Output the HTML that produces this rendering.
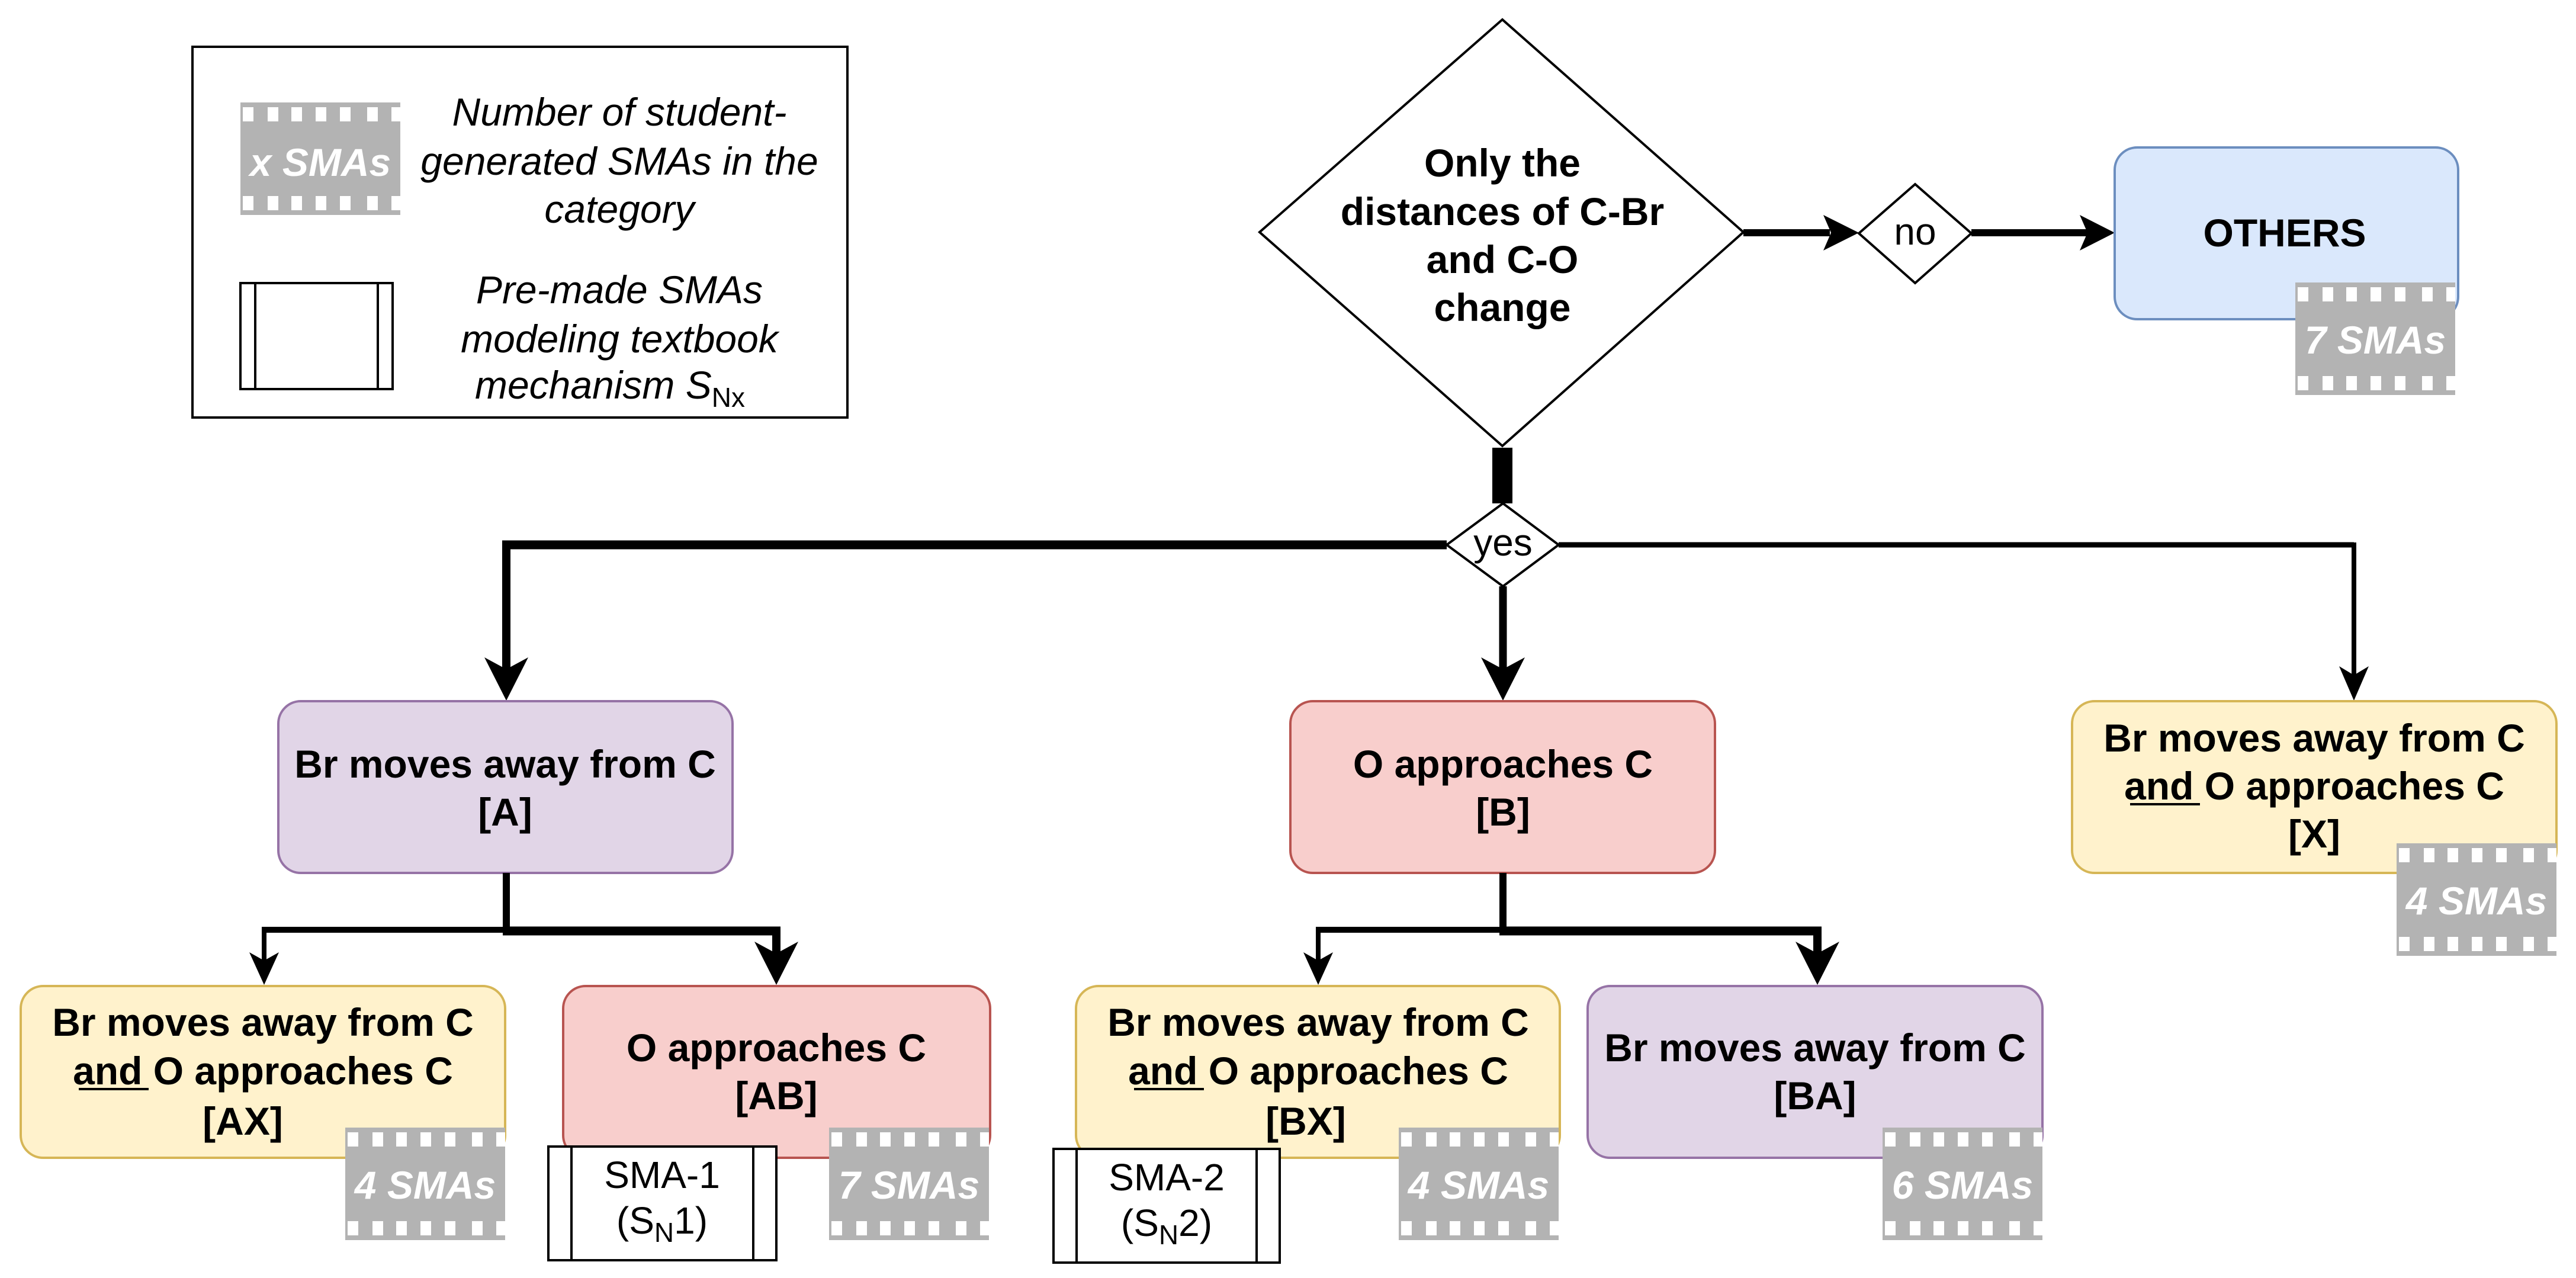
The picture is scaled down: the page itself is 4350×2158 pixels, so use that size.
<!DOCTYPE html>
<html><head><meta charset="utf-8"><style>
html,body{margin:0;padding:0;background:#fff;}
svg{display:block;}
text{font-family:"Liberation Sans",Arial,sans-serif;}
.b{font-weight:bold;font-size:66px;}
.l{font-style:italic;font-size:66px;}
.r{font-size:64px;}
.f{font-weight:bold;font-style:italic;font-size:66px;fill:#fff;}
</style></head><body>
<svg width="4350" height="2158" viewBox="0 0 4350 2158" xmlns="http://www.w3.org/2000/svg" font-family="Liberation Sans, Arial, sans-serif">
<defs>
<g id="film">
<rect x="0" y="0" width="270" height="190" fill="#b3b3b3"/>
<g fill="#fff">
<rect x="4" y="8" width="18" height="24"/><rect x="46" y="8" width="18" height="24"/><rect x="86" y="8" width="18" height="24"/><rect x="127" y="8" width="18" height="24"/><rect x="168" y="8" width="18" height="24"/><rect x="214" y="8" width="18" height="24"/><rect x="255" y="8" width="15" height="24"/>
<rect x="4" y="158" width="18" height="24"/><rect x="46" y="158" width="18" height="24"/><rect x="86" y="158" width="18" height="24"/><rect x="127" y="158" width="18" height="24"/><rect x="168" y="158" width="18" height="24"/><rect x="214" y="158" width="18" height="24"/><rect x="255" y="158" width="15" height="24"/>
</g>
</g>
</defs>

<!-- Legend -->
<rect x="325" y="79" width="1106" height="626" fill="#fff" stroke="#000" stroke-width="4"/>
<use href="#film" x="406" y="173"/>
<text class="f" x="541" y="297" text-anchor="middle">x SMAs</text>
<text class="l" x="1046" y="212" text-anchor="middle">Number of student-</text>
<text class="l" x="1046" y="295" text-anchor="middle">generated SMAs in the</text>
<text class="l" x="1046" y="376" text-anchor="middle">category</text>
<rect x="406" y="478" width="257" height="179" fill="#fff" stroke="#000" stroke-width="4"/>
<line x1="431" y1="478" x2="431" y2="657" stroke="#000" stroke-width="4"/>
<line x1="638" y1="478" x2="638" y2="657" stroke="#000" stroke-width="4"/>
<text class="l" x="1046" y="512" text-anchor="middle">Pre-made SMAs</text>
<text class="l" x="1046" y="595" text-anchor="middle">modeling textbook</text>
<text class="l" x="1030" y="673" text-anchor="middle">mechanism S<tspan font-size="46" font-style="normal" dy="14">Nx</tspan></text>

<!-- Big diamond -->
<polygon points="2537,33 2944,392 2537,753 2127,392" fill="#fff" stroke="#000" stroke-width="4"/>
<text class="b" x="2537" y="298" text-anchor="middle">Only the</text>
<text class="b" x="2537" y="380" text-anchor="middle">distances of C-Br</text>
<text class="b" x="2537" y="461" text-anchor="middle">and C-O</text>
<text class="b" x="2537" y="542" text-anchor="middle">change</text>

<!-- no branch -->
<line x1="2944" y1="393" x2="3090" y2="393" stroke="#000" stroke-width="12"/>
<polygon points="3139,393 3079,363 3092,393 3079,423" fill="#000"/>
<polygon points="3234,311 3329,394 3234,478 3139,394" fill="#fff" stroke="#000" stroke-width="4"/>
<text class="r" x="3234" y="413" text-anchor="middle" font-size="56">no</text>
<line x1="3329" y1="393" x2="3525" y2="393" stroke="#000" stroke-width="12"/>
<polygon points="3571,393 3512,363 3525,393 3512,423" fill="#000"/>

<!-- OTHERS -->
<rect x="3571" y="249" width="580" height="290" rx="38" fill="#dae8fc" stroke="#6c8ebf" stroke-width="4"/>
<text class="b" x="3858" y="416" text-anchor="middle">OTHERS</text>
<use href="#film" x="3876" y="477"/>
<text class="f" x="4011" y="597" text-anchor="middle">7 SMAs</text>

<!-- yes junction -->
<rect x="2520" y="756" width="34" height="94" fill="#000"/>
<line x1="848" y1="920" x2="2443" y2="920" stroke="#000" stroke-width="15"/>
<line x1="2632" y1="920" x2="3975" y2="920" stroke="#000" stroke-width="9"/>
<polygon points="2538,850 2632,920 2538,990 2443,920" fill="#fff" stroke="#000" stroke-width="4"/>
<text class="r" x="2538" y="938" text-anchor="middle" font-size="54">yes</text>

<!-- to A -->
<line x1="855" y1="913" x2="855" y2="1130" stroke="#000" stroke-width="14"/>
<polygon points="855,1183 818,1110 855,1130 892,1110" fill="#000"/>
<!-- to B -->
<line x1="2538" y1="990" x2="2538" y2="1130" stroke="#000" stroke-width="13"/>
<polygon points="2538,1183 2501,1110 2538,1130 2575,1110" fill="#000"/>
<!-- to X -->
<line x1="3975" y1="916" x2="3975" y2="1140" stroke="#000" stroke-width="8"/>
<polygon points="3975,1183 3950,1125 3975,1140 4000,1125" fill="#000"/>

<!-- A -->
<rect x="470" y="1184" width="767" height="290" rx="38" fill="#e1d5e7" stroke="#9673a6" stroke-width="4"/>
<text class="b" x="853" y="1313" text-anchor="middle">Br moves away from C</text>
<text class="b" x="853" y="1394" text-anchor="middle">[A]</text>

<!-- B -->
<rect x="2179" y="1184" width="717" height="290" rx="38" fill="#f8cecc" stroke="#b85450" stroke-width="4"/>
<text class="b" x="2538" y="1313" text-anchor="middle">O approaches C</text>
<text class="b" x="2538" y="1394" text-anchor="middle">[B]</text>

<!-- X -->
<rect x="3499" y="1184" width="818" height="290" rx="38" fill="#fff2cc" stroke="#d6b656" stroke-width="4"/>
<text class="b" x="3908" y="1269" text-anchor="middle">Br moves away from C</text>
<text class="b" x="3908" y="1350" text-anchor="middle">and O approaches C</text>
<text class="b" x="3908" y="1431" text-anchor="middle">[X]</text>
<line x1="3597" y1="1358" x2="3715" y2="1358" stroke="#000" stroke-width="4"/>
<use href="#film" x="4047" y="1424"/>
<text class="f" x="4182" y="1544" text-anchor="middle">4 SMAs</text>

<!-- A children connectors -->
<line x1="855" y1="1474" x2="855" y2="1577" stroke="#000" stroke-width="12"/>
<line x1="446" y1="1570" x2="861" y2="1570" stroke="#000" stroke-width="10"/>
<line x1="446" y1="1565" x2="446" y2="1625" stroke="#000" stroke-width="8"/>
<polygon points="446,1663 421,1608 446,1622 471,1608" fill="#000"/>
<line x1="849" y1="1572" x2="1318" y2="1572" stroke="#000" stroke-width="15"/>
<line x1="1311" y1="1565" x2="1311" y2="1625" stroke="#000" stroke-width="14"/>
<polygon points="1311,1663 1274,1590 1311,1610 1348,1590" fill="#000"/>

<!-- B children connectors -->
<line x1="2538" y1="1474" x2="2538" y2="1577" stroke="#000" stroke-width="12"/>
<line x1="2226" y1="1570" x2="2544" y2="1570" stroke="#000" stroke-width="10"/>
<line x1="2226" y1="1565" x2="2226" y2="1625" stroke="#000" stroke-width="8"/>
<polygon points="2226,1663 2201,1608 2226,1622 2251,1608" fill="#000"/>
<line x1="2532" y1="1572" x2="3076" y2="1572" stroke="#000" stroke-width="15"/>
<line x1="3069" y1="1565" x2="3069" y2="1625" stroke="#000" stroke-width="14"/>
<polygon points="3069,1663 3032,1590 3069,1610 3106,1590" fill="#000"/>

<!-- AX -->
<rect x="35" y="1665" width="818" height="290" rx="38" fill="#fff2cc" stroke="#d6b656" stroke-width="4"/>
<text class="b" x="444" y="1749" text-anchor="middle">Br moves away from C</text>
<text class="b" x="444" y="1831" text-anchor="middle">and O approaches C</text>
<line x1="133" y1="1839" x2="251" y2="1839" stroke="#000" stroke-width="4"/>
<text class="b" x="410" y="1916" text-anchor="middle">[AX]</text>
<use href="#film" x="583" y="1904"/>
<text class="f" x="718" y="2024" text-anchor="middle">4 SMAs</text>

<!-- AB -->
<rect x="951" y="1665" width="721" height="290" rx="38" fill="#f8cecc" stroke="#b85450" stroke-width="4"/>
<text class="b" x="1311" y="1792" text-anchor="middle">O approaches C</text>
<text class="b" x="1311" y="1873" text-anchor="middle">[AB]</text>
<use href="#film" x="1400" y="1904"/>
<text class="f" x="1535" y="2024" text-anchor="middle">7 SMAs</text>
<rect x="926" y="1936" width="385" height="192" fill="#fff" stroke="#000" stroke-width="4"/>
<line x1="965" y1="1936" x2="965" y2="2128" stroke="#000" stroke-width="4"/>
<line x1="1272" y1="1936" x2="1272" y2="2128" stroke="#000" stroke-width="4"/>
<text class="r" x="1118" y="2006" text-anchor="middle">SMA-1</text>
<text class="r" x="1118" y="2083" text-anchor="middle">(S<tspan font-size="46" dy="14">N</tspan><tspan dy="-14">1)</tspan></text>

<!-- BX -->
<rect x="1817" y="1665" width="817" height="290" rx="38" fill="#fff2cc" stroke="#d6b656" stroke-width="4"/>
<text class="b" x="2226" y="1749" text-anchor="middle">Br moves away from C</text>
<text class="b" x="2226" y="1831" text-anchor="middle">and O approaches C</text>
<line x1="1915" y1="1839" x2="2033" y2="1839" stroke="#000" stroke-width="4"/>
<text class="b" x="2205" y="1916" text-anchor="middle">[BX]</text>
<use href="#film" x="2362" y="1904"/>
<text class="f" x="2497" y="2024" text-anchor="middle">4 SMAs</text>
<rect x="1779" y="1940" width="382" height="192" fill="#fff" stroke="#000" stroke-width="4"/>
<line x1="1818" y1="1940" x2="1818" y2="2132" stroke="#000" stroke-width="4"/>
<line x1="2122" y1="1940" x2="2122" y2="2132" stroke="#000" stroke-width="4"/>
<text class="r" x="1970" y="2010" text-anchor="middle">SMA-2</text>
<text class="r" x="1970" y="2087" text-anchor="middle">(S<tspan font-size="46" dy="14">N</tspan><tspan dy="-14">2)</tspan></text>

<!-- BA -->
<rect x="2681" y="1665" width="768" height="290" rx="38" fill="#e1d5e7" stroke="#9673a6" stroke-width="4"/>
<text class="b" x="3065" y="1792" text-anchor="middle">Br moves away from C</text>
<text class="b" x="3065" y="1873" text-anchor="middle">[BA]</text>
<use href="#film" x="3179" y="1904"/>
<text class="f" x="3314" y="2024" text-anchor="middle">6 SMAs</text>
</svg>
</body></html>
